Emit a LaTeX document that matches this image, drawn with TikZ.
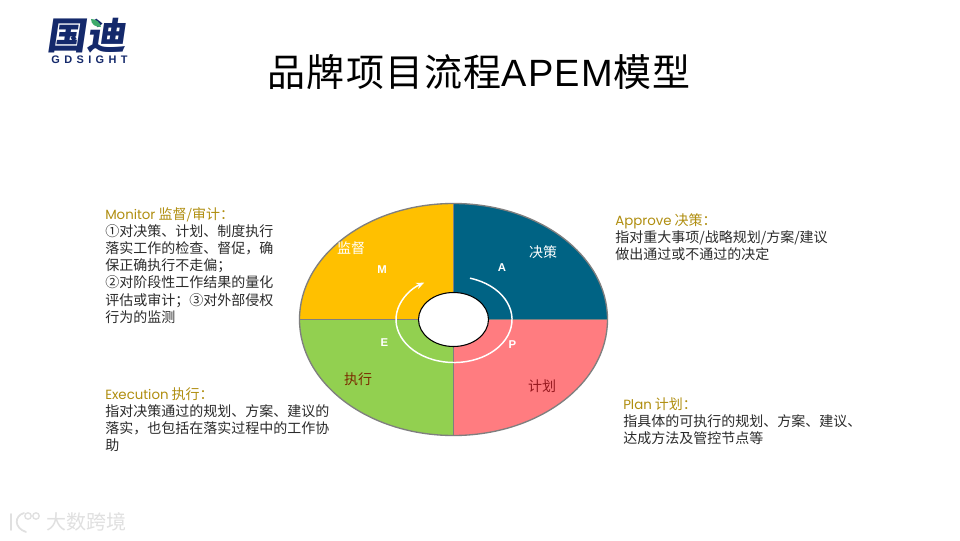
\documentclass[tikz,border=0pt]{standalone}
\usepackage{fontspec}
\usetikzlibrary{calc,arrows.meta}
\setmainfont{Noto Sans CJK SC}
\newfontfamily\cjk{Noto Sans CJK SC}
\newfontfamily\titlecjk[LetterSpace=3.2]{Noto Sans CJK SC}
\newfontfamily\titlelat[LetterSpace=3.2]{Liberation Sans}
\newfontfamily\latinhd{Poppins}
\newfontfamily\arialf{Liberation Sans}
\newfontfamily\logolat[LetterSpace=40]{Liberation Sans}
\newcommand{\hdl}[1]{{\latinhd\fontsize{10}{12.8}\selectfont #1}}
\definecolor{teal}{HTML}{006384}
\definecolor{amber}{HTML}{FFC000}
\definecolor{leafg}{HTML}{92D050}
\definecolor{pinkr}{HTML}{FF7C80}
\definecolor{hdcol}{HTML}{B08E10}
\definecolor{bodyc}{HTML}{2B2B2B}
\definecolor{navy}{HTML}{14296B}
\definecolor{leaf}{HTML}{3DAA6B}
\definecolor{wm}{HTML}{E0E0E0}
\definecolor{ringc}{HTML}{7F7F7F}
\tikzset{
  x=0.75pt,y=0.75pt,
  block/.style={anchor=north west,inner sep=0pt,align=left,text=bodyc,font=\cjk\fontsize{10.5}{12.9}\selectfont},
  seglab/.style={inner sep=0pt,font=\cjk\fontsize{10.5}{12}\selectfont},
  letterlab/.style={inner sep=0pt,text=white,font=\arialf\bfseries\fontsize{8.5}{10}\selectfont},
  ring/.style={draw=ringc,line width=1pt},
}
\begin{document}
\begin{tikzpicture}
\useasboundingbox (0,0) rectangle (960,540);
\fill[white] (0,0) rectangle (960,540);
% logo
\node[inner sep=0pt,text=navy,font=\cjk\bfseries\fontsize{28}{30}\selectfont,xscale=1.06,xslant=0.14] (logo) at (88.5,504) {国迪};
\node[inner sep=0pt,text=navy,font=\logolat\bfseries\fontsize{8.2}{9}\selectfont] (logosub) at (89.5,480) {GDSIGHT};
\fill[leaf] (91,521) .. controls (96,521) and (100,518) .. (101,513) .. controls (96,513) and (91,515) .. (91,521);
% title
\node[inner sep=0pt,font=\titlecjk\fontsize{28.5}{32}\selectfont] (title) at (479,468) {品牌项目流程{\titlelat APEM}模型};
% wheel
\coordinate (c) at (453.5,220.5);
\fill[teal] (c) -- ++(154,0) arc[start angle=0,end angle=90,x radius=154,y radius=116] -- cycle;
\fill[amber] (c) -- ++(0,116) arc[start angle=90,end angle=180,x radius=154,y radius=116] -- cycle;
\fill[leafg] (c) -- ++(-154,0) arc[start angle=180,end angle=270,x radius=154,y radius=116] -- cycle;
\fill[pinkr] (c) -- ++(0,-116) arc[start angle=270,end angle=360,x radius=154,y radius=116] -- cycle;
\draw[ring] (c) ellipse[x radius=154,y radius=116];
\draw[ring] ($(c)+(-154,0)$) -- ($(c)+(154,0)$);
\draw[ring] ($(c)+(0,116)$) -- ($(c)+(0,-116)$);
\draw[black,fill=white,line width=0.8pt] (c) ellipse[x radius=35,y radius=27];
\coordinate (arcstart) at (470,261.8);
\draw[white,line width=1.1pt,-{Stealth[length=6pt,width=5pt]}] (arcstart) arc[start angle=74,end angle=-239,x radius=58,y radius=43];
% segment labels
\node[seglab,text=white] (jc) at (543,288) {决策};
\node[seglab,text=white] (jd) at (351,292) {监督};
\node[seglab,text={rgb,255:red,122;green,44;blue,0}] (zx) at (358,161) {执行};
\node[seglab,text={rgb,255:red,150;green,24;blue,30}] (jh) at (542,154) {计划};
\node[letterlab] (lm) at (382,270) {M};
\node[letterlab] (la) at (502,272) {A};
\node[letterlab] (le) at (384.5,197) {E};
\node[letterlab] (lp) at (512.5,195) {P};
% text blocks
\node[block] (monitor) at (105,333) {{\color{hdcol}\hdl{Monitor} 监督/审计：}\\
①对决策、计划、制度执行\\
落实工作的检查、督促，确\\
保正确执行不走偏；\\
②对阶段性工作结果的量化\\
评估或审计；③对外部侵权\\
行为的监测};
\node[block] (approve) at (615,326.5) {{\color{hdcol}\hdl{Approve} 决策：}\\
指对重大事项/战略规划/方案/建议\\
做出通过或不通过的决定};
\node[block] (execution) at (105,153) {{\color{hdcol}\hdl{Execution} 执行：}\\
指对决策通过的规划、方案、建议的\\
落实，也包括在落实过程中的工作协\\
助};
\node[block] (plan) at (623,143) {{\color{hdcol}\hdl{Plan} 计划：}\\
指具体的可执行的规划、方案、建议、\\
达成方法及管控节点等};
% watermark
\node[inner sep=0pt,text=wm,font=\cjk\fontsize{15}{16}\selectfont] (wmark) at (86,18) {大数跨境};
\draw[wm,line width=1.3pt,line cap=round] (11,26) -- (11,10);
\draw[wm,line width=1.3pt,line cap=round] (24,27) .. controls (14,24) and (14,12) .. (26,8);
\draw[wm,line width=1pt] (28,24) circle[radius=3.2];
\draw[wm,line width=1pt] (36,24) circle[radius=3.2];
\end{tikzpicture}
\end{document}
